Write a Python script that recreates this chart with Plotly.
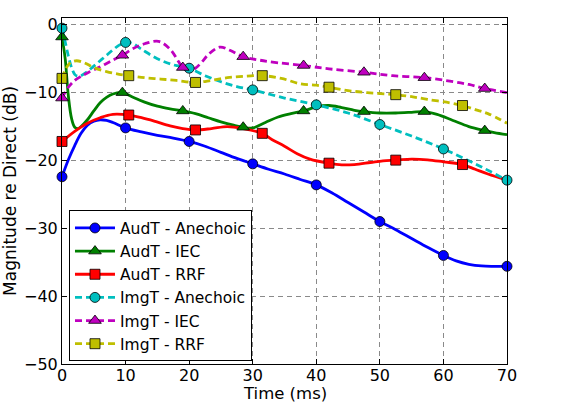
import plotly.graph_objects as go

# ---------------- data ----------------
series_names = ["AudT - Anechoic", "AudT - IEC", "AudT - RRF",
                "ImgT - Anechoic", "ImgT - IEC", "ImgT - RRF"]

# AudT - Anechoic
aud_an_line_x = [0, 1, 2, 3, 4, 5, 6, 7, 8, 10, 12.5, 15, 17.5, 20, 22.5, 25, 27.5, 30,
                 32.5, 35, 37.5, 40, 42.5, 45, 47.5, 50, 52.5, 55, 57.5, 60, 62, 64, 66, 68, 70]
aud_an_line_y = [-22.4, -19.9, -17.8, -16.0, -14.8, -14.2, -14.0, -14.1, -14.4, -15.2, -15.8,
                 -16.3, -16.7, -17.2, -17.9, -18.8, -19.7, -20.5, -21.3, -22.0, -22.8, -23.6,
                 -24.8, -26.2, -27.6, -29.0, -30.2, -31.5, -32.8, -34.0, -34.8, -35.3, -35.55,
                 -35.6, -35.6]
aud_an_mark_x = [0, 10, 20, 30, 40, 50, 60, 70]
aud_an_mark_y = [-22.4, -15.2, -17.2, -20.5, -23.6, -29.0, -34.0, -35.6]

# AudT - IEC
aud_iec_line_x = [0, 0.5, 1, 1.5, 2, 2.5, 3, 4, 5, 6, 7, 8, 9.5, 11, 13, 15, 17, 19, 21, 23,
                  25, 27, 28.5, 30, 32, 34, 36, 38, 40, 42, 44, 46, 47.5, 50, 52.5, 55, 57,
                  59, 61.5, 64, 66.5, 68, 70]
aud_iec_line_y = [-1.8, -5.0, -10.5, -13.8, -15.1, -15.3, -15.0, -14.0, -12.7, -11.5, -10.7,
                  -10.2, -10.0, -10.6, -11.4, -12.0, -12.4, -12.7, -13.1, -13.7, -14.3, -14.8,
                  -15.1, -15.2, -14.4, -13.6, -13.1, -12.7, -12.1, -11.9, -12.2, -12.6, -12.8,
                  -13.0, -13.0, -12.9, -12.8, -13.2, -14.1, -15.0, -15.6, -15.9, -16.2]
aud_iec_mark_x = [0, 9.5, 19, 28.5, 38, 47.5, 57, 66.5]
aud_iec_mark_y = [-1.8, -10.0, -12.7, -15.1, -12.7, -12.8, -12.8, -15.6]

# AudT - RRF
aud_rrf_line_x = [0, 2, 4, 6, 8, 10.5, 12.5, 14.5, 17, 19, 21, 23.5, 26, 28.5, 31.5, 33, 35,
                  37, 39, 42, 44, 46, 48.5, 50.5, 52.5, 55, 57.5, 60, 63, 65, 67, 70]
aud_rrf_line_y = [-17.2, -15.7, -14.5, -13.7, -13.2, -13.3, -13.7, -14.2, -14.9, -15.3, -15.5,
                  -15.3, -15.0, -15.3, -16.0, -16.9, -17.9, -19.0, -19.8, -20.4, -20.65, -20.6,
                  -20.3, -20.05, -19.95, -19.8, -19.9, -20.2, -20.6, -21.3, -22.0, -22.9]
aud_rrf_mark_x = [0, 10.5, 21, 31.5, 42, 52.5, 63]
aud_rrf_mark_y = [-17.2, -13.3, -15.5, -16.0, -20.4, -19.95, -20.6]

# ImgT - Anechoic
img_an_line_x = [0, 0.5, 1, 1.5, 2, 2.5, 3, 4, 5, 6, 7, 8, 9, 10, 11, 12.5, 15, 17.5, 20, 22.5,
                 25, 27.5, 30, 35, 40, 45, 50, 55, 60, 65, 70]
img_an_line_y = [-0.5, -2.5, -4.6, -6.3, -7.3, -7.6, -7.5, -6.9, -6.1, -5.3, -4.5, -3.7, -3.0,
                 -2.6, -2.7, -3.6, -5.0, -5.9, -6.4, -7.5, -8.4, -9.1, -9.6, -10.8, -11.8,
                 -13.0, -14.7, -16.4, -18.3, -20.5, -22.9]
img_an_mark_x = [0, 10, 20, 30, 40, 50, 60, 70]
img_an_mark_y = [-0.5, -2.6, -6.4, -9.6, -11.8, -14.7, -18.3, -22.9]

# ImgT - IEC
img_iec_line_x = [0, 1, 2, 3, 4, 6, 8, 9.5, 11, 13, 15.2, 17, 19, 20, 21, 22, 23, 24.8, 26.5,
                  28.5, 31, 34, 38, 42, 47.5, 52, 57, 61, 64, 66.5, 70]
img_iec_line_y = [-10.8, -9.2, -8.2, -7.6, -7.1, -6.2, -5.2, -4.5, -3.6, -2.8, -2.45, -3.6,
                  -6.3, -6.9, -6.4, -5.5, -4.4, -3.3, -3.8, -4.7, -5.2, -5.6, -6.0, -6.5, -7.0,
                  -7.5, -7.8, -8.3, -8.8, -9.4, -10.0]
img_iec_mark_x = [0, 9.5, 19, 28.5, 38, 47.5, 57, 66.5]
img_iec_mark_y = [-10.8, -4.5, -6.3, -4.7, -6.0, -7.0, -7.8, -9.4]

# ImgT - RRF
img_rrf_line_x = [0, 0.5, 1, 1.5, 2.3, 3.5, 5, 7, 9, 10.5, 13, 15.5, 18, 21, 23.5, 26, 28.5,
                  31.5, 34.5, 37.5, 40, 42, 45, 48, 52.5, 55, 57.5, 61, 63, 65, 67, 70]
img_rrf_line_y = [-7.9, -6.7, -5.9, -5.5, -5.3, -5.6, -6.3, -6.9, -7.3, -7.5, -7.8, -8.0, -8.2,
                  -8.5, -8.2, -7.8, -7.6, -7.5, -7.9, -8.7, -8.9, -9.2, -9.7, -10.0, -10.3,
                  -10.6, -11.0, -11.5, -11.9, -12.5, -13.1, -14.5]
img_rrf_mark_x = [0, 10.5, 21, 31.5, 42, 52.5, 63]
img_rrf_mark_y = [-7.9, -7.5, -8.5, -7.5, -9.2, -10.3, -11.9]

x_ticks = [0, 10, 20, 30, 40, 50, 60, 70]
y_ticks = [0, -10, -20, -30, -40, -50]
x_title = "Time (ms)"
y_title = "Magnitude re Direct (dB)"

# ---------------- styling ----------------
colors = ["#0000ff", "#008000", "#ff0000", "#00bfbf", "#bf00bf", "#bfbf00"]
symbols = ["circle", "triangle-up", "square", "circle", "triangle-up", "square"]
msizes = [10, 11, 10, 10, 11, 10]
dashes = ["solid", "solid", "solid", "7px,4px", "7px,4px", "7px,4px"]

lines = [(aud_an_line_x, aud_an_line_y), (aud_iec_line_x, aud_iec_line_y),
         (aud_rrf_line_x, aud_rrf_line_y), (img_an_line_x, img_an_line_y),
         (img_iec_line_x, img_iec_line_y), (img_rrf_line_x, img_rrf_line_y)]
marks = [(aud_an_mark_x, aud_an_mark_y), (aud_iec_mark_x, aud_iec_mark_y),
         (aud_rrf_mark_x, aud_rrf_mark_y), (img_an_mark_x, img_an_mark_y),
         (img_iec_mark_x, img_iec_mark_y), (img_rrf_mark_x, img_rrf_mark_y)]

fig = go.Figure()
for i, name in enumerate(series_names):
    lx, ly = lines[i]
    grp = "g%d" % i
    fig.add_trace(go.Scatter(x=lx, y=ly, mode="lines", legendgroup=grp, showlegend=False,
                             line=dict(color=colors[i], width=2.8, dash=dashes[i],
                                       shape="spline", smoothing=1.0),
                             hoverinfo="skip"))
for i, name in enumerate(series_names):
    mx, my = marks[i]
    grp = "g%d" % i
    fig.add_trace(go.Scatter(x=mx, y=my, mode="markers", legendgroup=grp, showlegend=False,
                             marker=dict(symbol=symbols[i], size=msizes[i], color=colors[i],
                                         line=dict(color="black", width=0.8)),
                             cliponaxis=False))
    # legend entry
    fig.add_trace(go.Scatter(x=[None], y=[None], mode="lines+markers", name=name,
                             legendgroup=grp,
                             line=dict(color=colors[i], width=2.8, dash=dashes[i]),
                             marker=dict(symbol=symbols[i], size=msizes[i], color=colors[i],
                                         line=dict(color="black", width=0.8))))

font_family = "DejaVu Sans, sans-serif"
axis_common = dict(
    showline=True, linecolor="black", linewidth=1, mirror="ticks",
    ticks="inside", ticklen=5, tickcolor="black", tickwidth=1,
    showgrid=True, gridcolor="#8a8a8a", gridwidth=1, griddash="5px,4px",
    zeroline=False, tickfont=dict(size=16, color="black", family=font_family),
)

fig.update_layout(
    width=563, height=406,
    margin=dict(l=62, r=56, t=18, b=42, autoexpand=False),
    paper_bgcolor="white", plot_bgcolor="white",
    font=dict(family=font_family, color="black"),
    xaxis=dict(range=[0, 70], tickvals=x_ticks, ticklabelstandoff=-3, **axis_common),
    yaxis=dict(range=[-50, 1], tickvals=y_ticks, **axis_common),
    legend=dict(x=0.0157, y=0.444, xanchor="left", yanchor="top",
                bgcolor="white", bordercolor="black", borderwidth=1,
                font=dict(size=15.5, color="black", family=font_family),
                tracegroupgap=0, traceorder="grouped", itemwidth=40),
    showlegend=True,
    annotations=[
        dict(text=x_title, xref="paper", yref="paper", x=0.5, y=-0.1187,
             xanchor="center", yanchor="bottom", showarrow=False,
             font=dict(size=16.5, color="black", family=font_family)),
        dict(text=y_title, xref="paper", yref="paper", x=-0.117, y=0.5, textangle=-90,
             xanchor="center", yanchor="middle", showarrow=False,
             font=dict(size=17, color="black", family=font_family)),
    ],
)

fig.write_html("out.html")
